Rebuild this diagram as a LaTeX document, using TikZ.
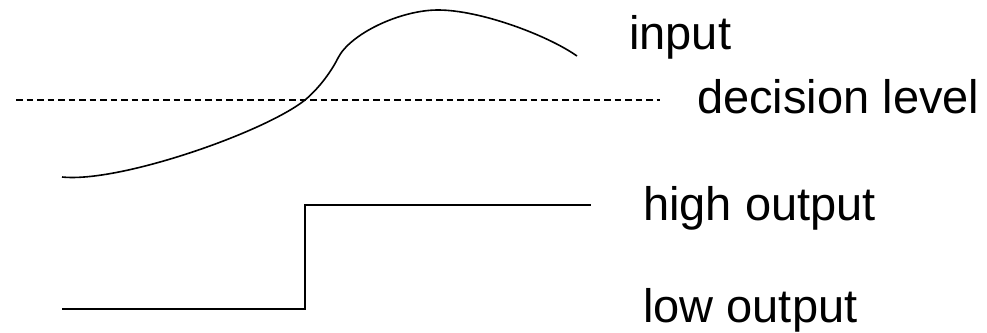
\documentclass[tikz,border=0pt]{standalone}
\usepackage{fontspec}
\setmainfont{Liberation Sans}
\begin{document}
\begin{tikzpicture}[x=1pt,y=-1pt,
  lbl/.style={anchor=base west,inner sep=0pt,font=\fontsize{47}{56}\selectfont},
  wave/.style={line width=1.6pt,black}]
\useasboundingbox (0,0) rectangle (987,332);
% input curve
\coordinate (c0) at (62,177);
\coordinate (c1) at (305,100);
\coordinate (c2) at (338,58);
\coordinate (c3) at (438,10);
\coordinate (c4) at (577,56);
\draw[wave] (c0) .. controls (120,183) and (265,132) .. (c1)
  .. controls (317,90) and (330,74) .. (c2)
  .. controls (350,34) and (400,10) .. (c3)
  .. controls (480,10) and (547,35) .. (c4);
% decision level
\coordinate (dl1) at (16,100);
\coordinate (dl2) at (660,100);
\draw[line width=1.1pt,dash pattern=on 6.5pt off 4pt] (dl1) -- (dl2);
% output step
\coordinate (s0) at (62,309);
\coordinate (s1) at (305,309);
\coordinate (s2) at (305,205);
\coordinate (s3) at (591,205);
\draw[wave] (s0) -- (s1) -- (s2) -- (s3);
% labels
\node[lbl] (tin) at (629,49) {input};
\node[lbl] (tdl) at (697,113) {decision level};
\node[lbl] (thi) at (643,220) {high output};
\node[lbl] (tlo) at (643,322) {low output};
\end{tikzpicture}
\end{document}
